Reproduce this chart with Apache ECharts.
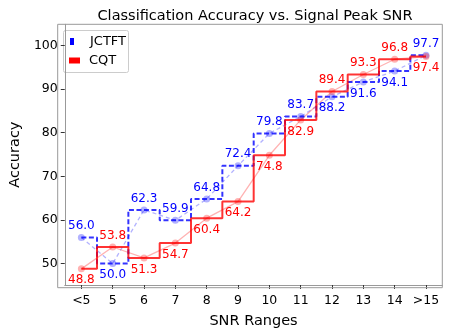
<!DOCTYPE html>
<html><head><meta charset="utf-8">
<script src="https://cdn.jsdelivr.net/npm/echarts@6/dist/echarts.min.js"></script>
<style>html,body{margin:0;padding:0;background:#fff}#c{width:449px;height:334px}</style>
</head><body><div id="c"></div>
<script>
const categories = ['<5','5','6','7','8','9','10','11','12','13','14','>15'];
const jctft = [56.0, 50.0, 62.3, 59.9, 64.8, 72.4, 79.8, 83.7, 88.2, 91.6, 94.1, 97.7];
const cqt   = [48.8, 53.8, 51.3, 54.7, 60.4, 64.2, 74.8, 82.9, 89.4, 93.3, 96.8, 97.4];
// label placement: 1 = above, -1 = below
const jctftLabelPos = [1,-1,1,1,1,1,1,1,-1,-1,-1,1];
const cqtLabelPos   = [-1,1,-1,-1,-1,-1,-1,-1,1,1,1,-1];
const yTicks = [50,60,70,80,90,100];

const FONT = 'DejaVu Sans';
const pts = arr => arr.map((v,i)=>[i,v]);
function labeled(arr, pos, color){
  return arr.map((v,i)=>({value:[i,v], label:{show:true, position: pos[i]>0?'top':'bottom',
    distance: 2, color:color, fontSize:12, fontFamily:FONT,
    formatter: v.toFixed(1)}}));
}
const chart = echarts.init(document.getElementById('c'), null, {renderer:'canvas'});
chart.setOption({
  animation:false,
  title:{text:'Classification Accuracy vs. Signal Peak SNR', left:250, textAlign:'center', top:4,
    textStyle:{fontFamily:FONT, fontSize:14.5, fontWeight:'normal', color:'#000'}},
  grid:{left:57.7, right:6.7, top:24.3, bottom:46.3, containLabel:false},
  legend:[
    {data:['JCTFT'], left:70, top:35, icon:'rect', itemWidth:4, itemHeight:7, itemGap:0,
     textStyle:{fontFamily:FONT, fontSize:13, color:'#000', padding:[0,0,0,11]}, padding:0},
    {data:['CQT'], left:69, top:54, icon:'rect', itemWidth:11, itemHeight:6,
     textStyle:{fontFamily:FONT, fontSize:13, color:'#000', padding:[0,0,0,4]}, padding:0}
  ],
  xAxis:{type:'value', min:-0.53, max:11.52,
    name:'SNR Ranges', nameLocation:'middle', nameGap:29,
    nameTextStyle:{fontFamily:FONT, fontSize:14.5, color:'#000'},
    axisLine:{show:true, onZero:false, lineStyle:{color:'#999'}},
    axisTick:{show:true, customValues:categories.map((c,i)=>i), length:4, lineStyle:{color:'#333'}},
    axisLabel:{customValues:categories.map((c,i)=>i), formatter:v=>categories[Math.round(v)],
      fontFamily:FONT, fontSize:12.5, color:'#000', margin:9},
    splitLine:{show:false}},
  yAxis:{type:'value', min:45.1, max:104.8,
    name:'Accuracy', nameLocation:'middle', nameGap:37, nameRotate:90,
    nameTextStyle:{fontFamily:FONT, fontSize:14.5, color:'#000'},
    axisLine:{show:true, onZero:false, lineStyle:{color:'#999'}},
    axisTick:{show:true, customValues:yTicks, length:4, lineStyle:{color:'#333'}},
    axisLabel:{customValues:yTicks, fontFamily:FONT, fontSize:12.5, color:'#000', margin:7},
    splitLine:{show:false}},
  graphic:[{type:'rect', left:63, top:30, shape:{width:65, height:42, r:2},
    style:{fill:'rgba(255,255,255,0.8)', stroke:'#cccccc', lineWidth:1}, z:0},
  {type:'rect', shape:{x:57.7, y:24.3, width:449-6.7-57.7, height:334-46.3-24.3},
    style:{fill:'none', stroke:'#999', lineWidth:1}, z:1, silent:true}],
  series:[
    {name:'JCTFT-pts', type:'line', data:labeled(jctft, jctftLabelPos, '#0000ff'), symbol:'circle', symbolSize:7,
     itemStyle:{color:'rgba(0,0,255,0.3)'}, lineStyle:{color:'rgba(0,0,255,0.3)', type:[4,3], width:1.3}, z:2},
    {name:'CQT-pts', type:'line', data:labeled(cqt, cqtLabelPos, '#ff0000'), symbol:'circle', symbolSize:7,
     itemStyle:{color:'rgba(255,0,0,0.3)'}, lineStyle:{color:'rgba(255,0,0,0.3)', width:1.3}, z:2},
    {name:'JCTFT', type:'line', step:'middle', data:pts(jctft), symbol:'none',
     itemStyle:{color:'#0000ff'}, lineStyle:{color:'rgba(0,0,255,0.8)', width:2, type:[5,2.5]}, z:3},
    {name:'CQT', type:'line', step:'middle', data:pts(cqt), symbol:'none',
     itemStyle:{color:'#ff0000'}, lineStyle:{color:'rgba(255,0,0,0.8)', width:2}, z:3}
  ]
});
</script></body></html>
